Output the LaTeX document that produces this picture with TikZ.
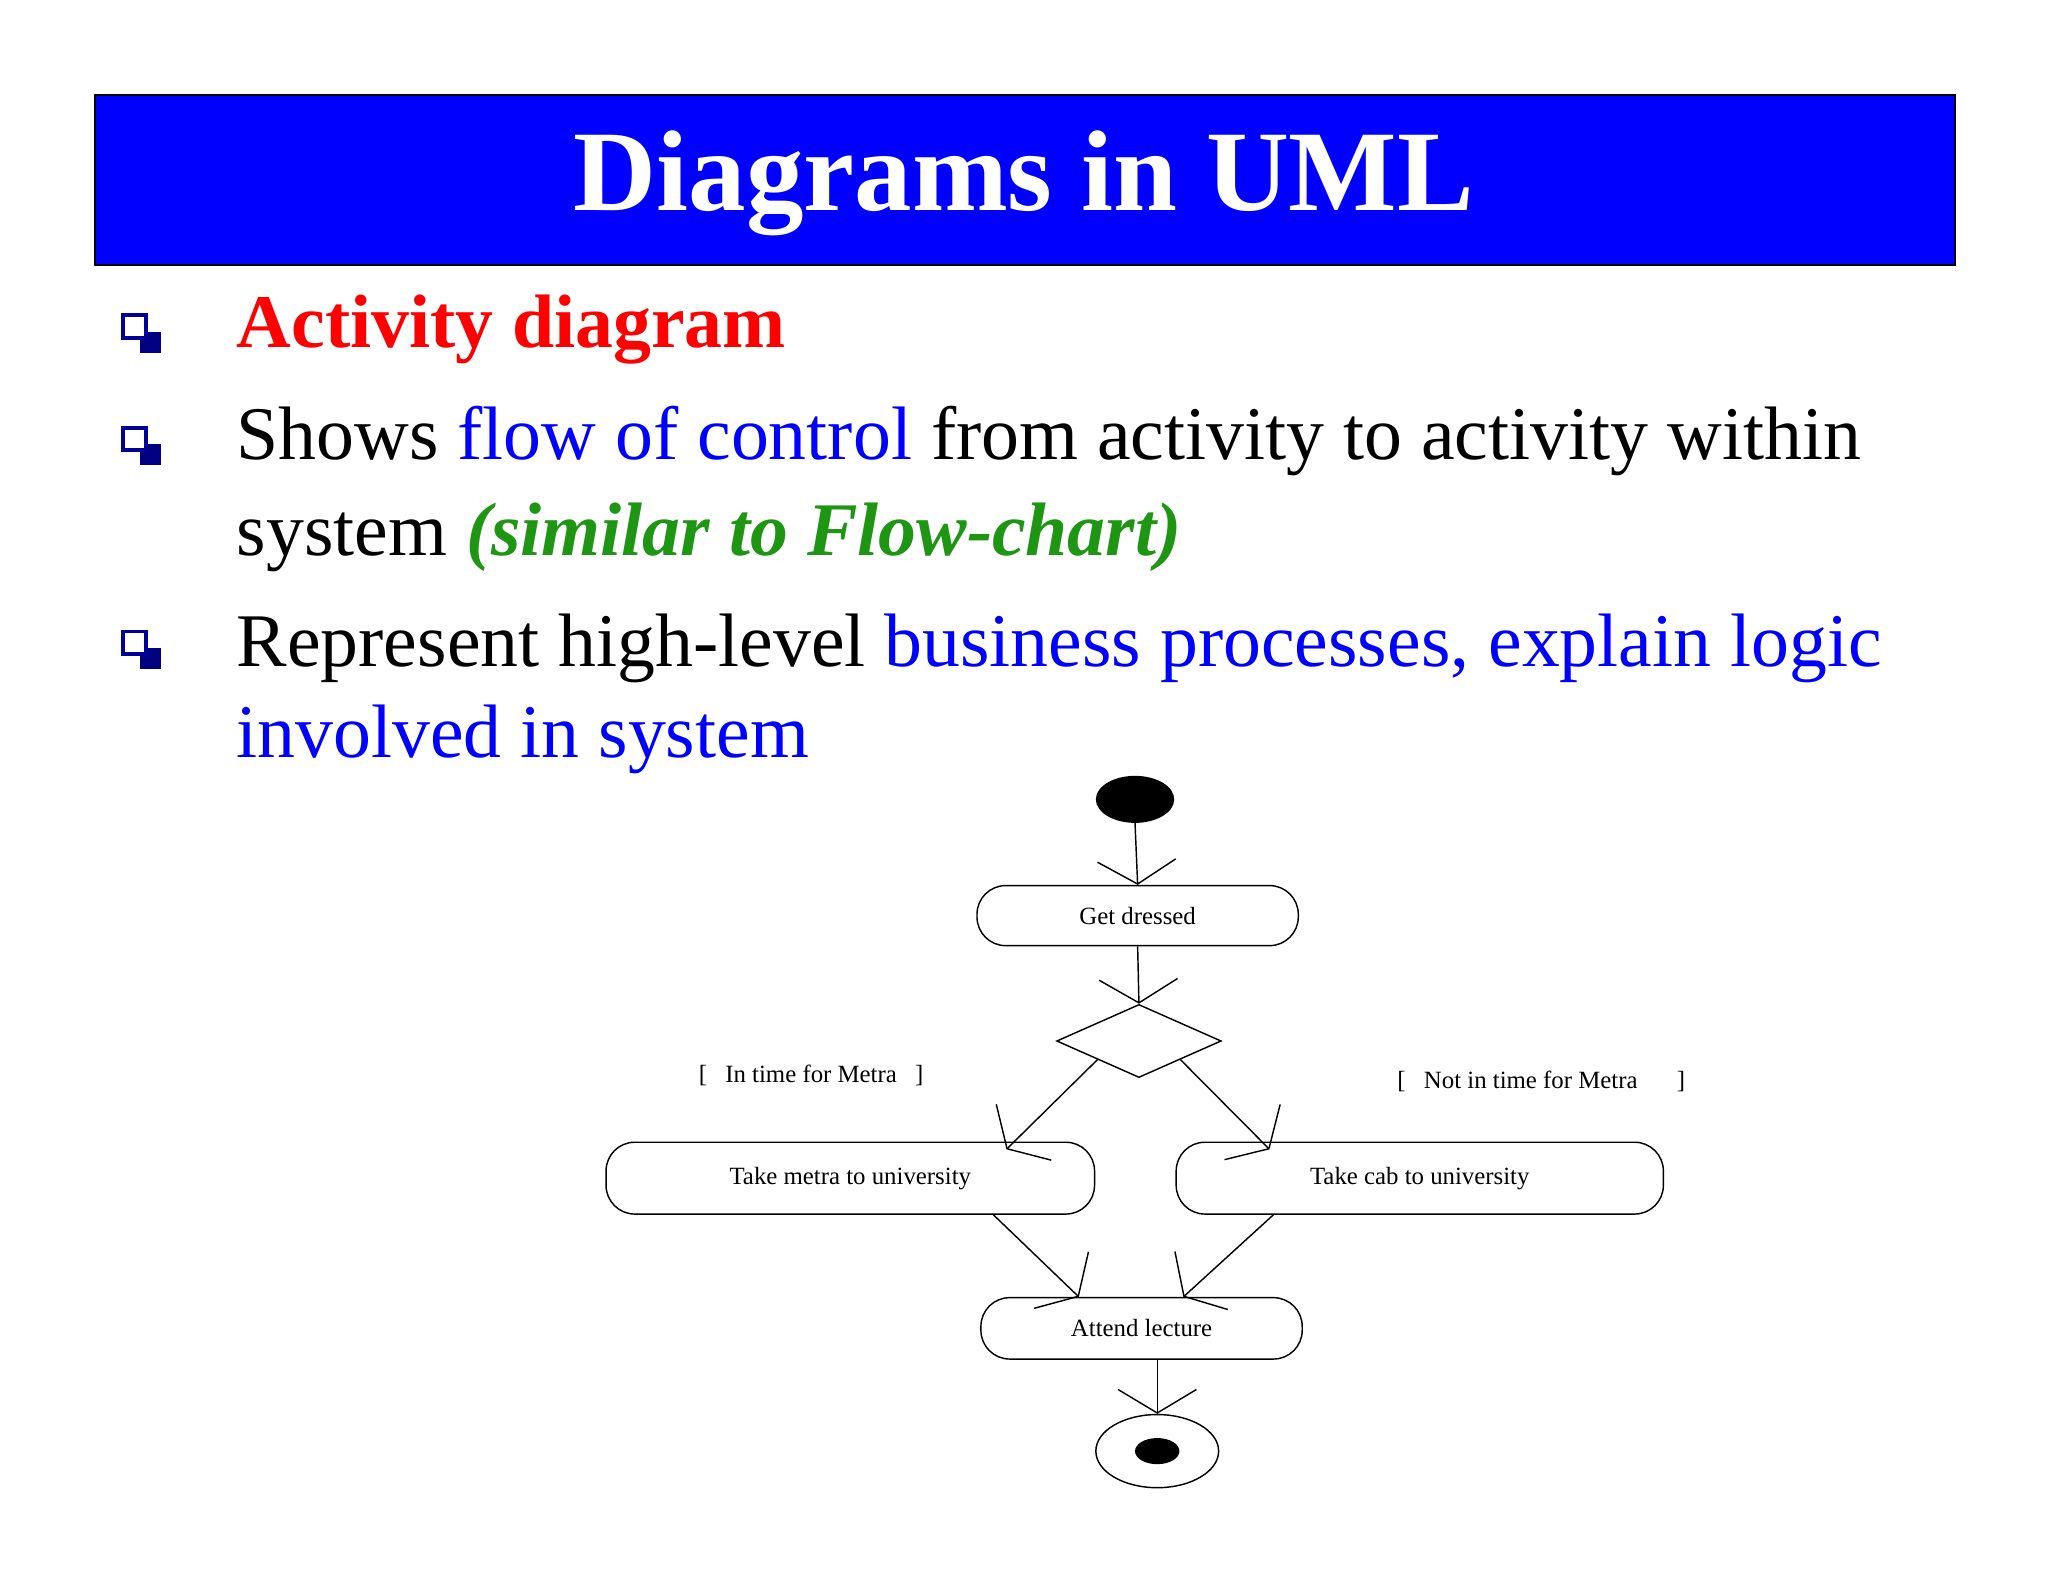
\documentclass[tikz,border=0pt]{standalone}
\usepackage{fontspec}
\setmainfont{Liberation Serif}
\usetikzlibrary{arrows.meta,shapes.geometric,calc}
\definecolor{ttblue}{RGB}{0,0,255}
\definecolor{ttgreen}{RGB}{30,150,20}
\begin{document}
\begin{tikzpicture}[x=1pt,y=-1pt,
  body/.style={anchor=base west,inner sep=0,font=\fontsize{58}{60}\selectfont},
  bul/.style={draw=ttblue!60!black,line width=3pt,fill=white,minimum size=20pt,inner sep=0},
  act/.style={draw,rounded corners=22pt,line width=1.1pt,font=\fontsize{19}{20}\selectfont,inner sep=0},
  flow/.style={line width=1.1pt,-{Straight Barb[length=18pt,width=60pt,line width=1.1pt]}},
  guard/.style={font=\fontsize{19}{20}\selectfont,inner sep=0}]
\useasboundingbox (0,0) rectangle (1568,1211);
\fill[white] (0,0) rectangle (1568,1211);
\node[draw=black,line width=1.5pt,fill=ttblue,minimum width=1424pt,minimum height=130pt,anchor=north west,inner sep=0] (banner) at (72,72) {};
\node[text=white,font=\bfseries\fontsize{88}{90}\selectfont] (title) at (784,140) {Diagrams in UML};
\foreach \y/\n in {250/b1,336/b2,492/b3}{
  \fill[ttblue!50!black] (107,\y+4) rectangle (123,\y+20);
  \node[bul,minimum size=17pt] (\n) at (103,\y) {};}
\node[body,text=red,font=\bfseries\fontsize{58}{60}\selectfont] (l1) at (181,266) {Activity diagram};
\node[body] (l2) at (181,352) {Shows \textcolor{ttblue}{flow of control} from activity to activity within};
\node[body] (l3) at (181,425) {system \textcolor{ttgreen}{\bfseries\itshape (similar to Flow-chart)}};
\node[body] (l4) at (181,510) {Represent high-level \textcolor{ttblue}{business processes, explain logic}};
\node[body,text=ttblue] (l5) at (181,580) {involved in system};
% activity diagram
\node[ellipse,fill=black,minimum width=60pt,minimum height=36pt,inner sep=0] (start) at (869,612) {};
\node[act,minimum width=246pt,minimum height=46pt] (gd) at (871,701) {Get dressed};
\node[diamond,draw,line width=1.1pt,minimum width=126pt,minimum height=56pt,inner sep=0,aspect=2.2] (dia) at (872,797) {};
\node[act,minimum width=374pt,minimum height=55pt] (tm) at (651,902) {Take metra to university};
\node[act,minimum width=373pt,minimum height=55pt] (tc) at (1087,902) {Take cab to university};
\node[act,minimum width=246pt,minimum height=47pt] (al) at (874,1017) {Attend lecture};
\node[ellipse,draw,line width=1.1pt,minimum width=94pt,minimum height=56pt,inner sep=0] (end) at (886,1111) {};
\node[ellipse,fill=black,minimum width=34pt,minimum height=20pt,inner sep=0] (endin) at (886,1111) {};
\node[guard] (g1) at (621,823) {[\hspace{14pt}In time for Metra\hspace{14pt}]};
\node[guard] (g2) at (1180,828) {[\hspace{14pt}Not in time for Metra\hspace{30pt}]};
\draw[flow] (start.south) -- (gd.north);
\draw[flow] (gd.south) -- (dia.north);
\draw[flow] (dia.south west) -- ([xshift=-68pt,yshift=-6pt]tm.north east);
\draw[flow] (dia.south east) -- ([xshift=72pt,yshift=-6pt]tc.north west);
\draw[flow] ([xshift=-78pt]tm.south east) -- ([xshift=-48pt]al.north);
\draw[flow] ([xshift=75pt]tc.south west) -- ([xshift=32pt]al.north);
\draw[flow] ([xshift=12pt]al.south) -- (end.north);
\end{tikzpicture}
\end{document}
